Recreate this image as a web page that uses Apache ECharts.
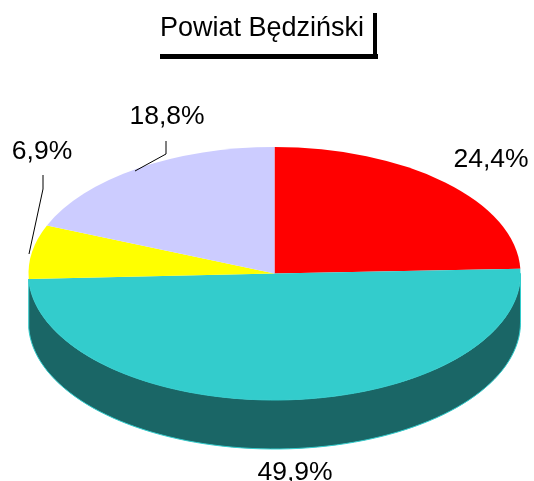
<!DOCTYPE html>
<html>
<head>
<meta charset="utf-8">
<style>
  html, body { margin: 0; padding: 0; background: #fff; }
  #main { width: 534px; height: 481px; }
</style>
<script src="https://cdn.jsdelivr.net/npm/echarts@6/dist/echarts.min.js"></script>
</head>
<body>
<div id="main"></div>
<script>
var titleText = 'Powiat Będziński';
var labels = ['24,4%', '49,9%', '6,9%', '18,8%'];
var values = [24.4, 49.9, 6.9, 18.8];
var colors = ['#ff0000', '#33cccc', '#ffff00', '#ccccff'];
var sideColors = [null, '#1a6666', null, null];

// layout of the pie, in pixels
var cx = 274.5, cy = 273.5, rx = 246, ry = 126.5, depth = 49;
var labelPos = [[491, 160], [295, 473], [42, 152], [167, 117]];
var leaders = [null, null, [[43, 175], [43, 189], [29, 254]], [[166, 141], [166, 154], [135, 171]]];
var fontName = '"Liberation Sans", Arial, sans-serif';

var total = 0;
for (var i = 0; i < values.length; i++) total += values[i];

function sliceRange(idx) {
    var before = 0;
    for (var i = 0; i < idx; i++) before += values[i];
    return [before / total * 2 * Math.PI, (before + values[idx]) / total * 2 * Math.PI];
}

// a = angle from 12 o'clock, clockwise
function rimPoint(a, dy) {
    return [cx + rx * Math.sin(a), cy - ry * Math.cos(a) + dy];
}

function renderSlice(params, api) {
    var idx = params.dataIndex;
    var range = sliceRange(idx);
    var children = [];

    if (sideColors[idx]) {
        var from = Math.max(range[0], Math.PI / 2);
        var to = Math.min(range[1], Math.PI * 3 / 2);
        var pts = [];
        var steps = 80;
        for (var s = 0; s <= steps; s++) pts.push(rimPoint(from + (to - from) * s / steps, 0));
        for (var t = steps; t >= 0; t--) pts.push(rimPoint(from + (to - from) * t / steps, depth));
        children.push({
            type: 'polygon',
            shape: { points: pts },
            style: { fill: sideColors[idx], stroke: colors[idx], lineWidth: 1 }
        });
    }

    children.push({
        type: 'group',
        x: cx,
        y: cy,
        scaleY: ry / rx,
        children: [{
            type: 'sector',
            shape: {
                cx: 0, cy: 0, r0: 0, r: rx,
                startAngle: range[0] - Math.PI / 2,
                endAngle: range[1] - Math.PI / 2,
                clockwise: true
            },
            style: { fill: colors[idx] }
        }]
    });

    if (leaders[idx]) {
        children.push({
            type: 'polyline',
            shape: { points: leaders[idx] },
            style: { fill: null, stroke: '#000', lineWidth: 1 }
        });
    }

    children.push({
        type: 'text',
        x: labelPos[idx][0],
        y: labelPos[idx][1],
        style: {
            text: labels[idx],
            fill: '#000',
            font: '26.5px ' + fontName,
            align: 'center',
            verticalAlign: 'middle'
        }
    });

    return { type: 'group', children: children };
}

var myChart = echarts.init(document.getElementById('main'), null, { renderer: 'canvas' });

var seriesData = [];
for (var j = 0; j < values.length; j++) seriesData.push([j, values[j]]);

var option = {
    backgroundColor: '#ffffff',
    animation: false,
    title: {
        text: titleText,
        left: 160,
        top: 15,
        padding: 0,
        textStyle: { fontFamily: fontName, fontSize: 27, fontWeight: 'normal', color: '#000' }
    },
    graphic: [
        { type: 'rect', shape: { x: 160, y: 54, width: 218, height: 5 }, style: { fill: '#000' } },
        { type: 'rect', shape: { x: 373, y: 13, width: 4, height: 44 }, style: { fill: '#000' } }
    ],
    series: [{
        type: 'custom',
        coordinateSystem: 'none',
        renderItem: renderSlice,
        data: seriesData
    }]
};

myChart.setOption(option);
</script>
</body>
</html>
